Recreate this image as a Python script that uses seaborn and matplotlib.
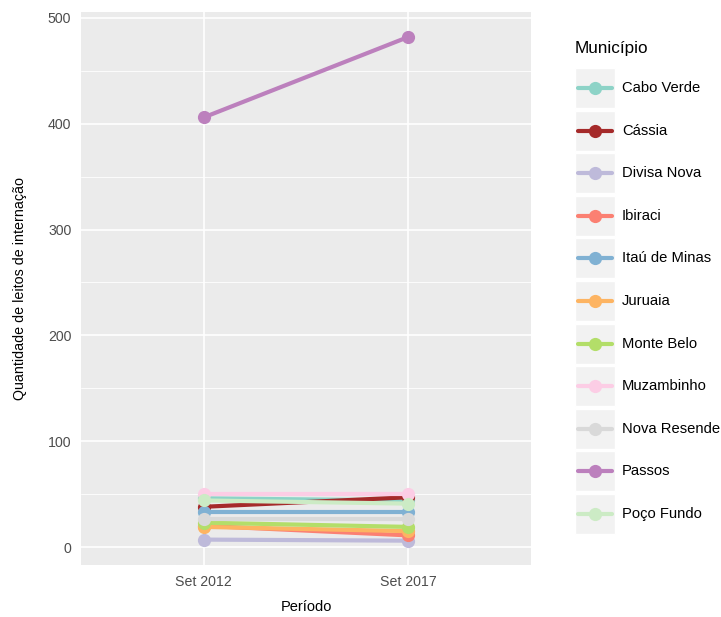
import matplotlib
matplotlib.use("Agg")
import matplotlib.pyplot as plt
from matplotlib.patches import Rectangle
from matplotlib.lines import Line2D
import seaborn as sns
import pandas as pd

periodos = ["Set 2012", "Set 2017"]
municipios = ["Cabo Verde", "Cássia", "Divisa Nova", "Ibiraci", "Itaú de Minas",
              "Juruaia", "Monte Belo", "Muzambinho", "Nova Resende", "Passos",
              "Poço Fundo"]
leitos_2012 = [46, 38, 7, 20, 33, 19, 23, 50, 26, 406, 44]
leitos_2017 = [44, 47, 6, 11, 33, 15, 19, 50, 26, 482, 41]
cores = ["#8DD3C7", "#A52A2A", "#BEBADA", "#FB8072", "#80B1D3", "#FDB462",
         "#B3DE69", "#FCCDE5", "#D9D9D9", "#BC80BD", "#CCEBC5"]

df = pd.DataFrame({
    "Município": municipios * 2,
    "Período": [periodos[0]] * len(municipios) + [periodos[1]] * len(municipios),
    "Leitos": leitos_2012 + leitos_2017,
})

sns.set_theme(style="darkgrid")
plt.rcParams["font.family"] = ["Liberation Sans", "DejaVu Sans"]

W, H = 721, 617
fig = plt.figure(figsize=(W / 100, H / 100), dpi=100)
# panel in pixel coordinates
px0, px1, py0, py1 = 81, 531, 12, 565
ax = fig.add_axes([px0 / W, 1 - py1 / H, (px1 - px0) / W, (py1 - py0) / H])
ax.set_facecolor("#EBEBEB")

paleta = dict(zip(municipios, cores))
sns.lineplot(data=df, x="Período", y="Leitos", hue="Município",
             hue_order=municipios, palette=paleta, linewidth=3,
             marker="o", markersize=9.5, markeredgewidth=0, legend=False,
             sort=False, ax=ax)

ax.set_xlim(-0.6, 1.6)
ax.set_ylim(-17, 505.6)
ax.set_yticks([0, 100, 200, 300, 400, 500])
ax.set_yticks([50, 150, 250, 350, 450], minor=True)
ax.grid(which="major", color="white", linewidth=1.2)
ax.grid(which="minor", color="white", linewidth=0.6)
ax.set_axisbelow(True)
for s in ax.spines.values():
    s.set_visible(False)
ax.tick_params(axis="both", which="major", length=4, width=1, color="#333333",
               labelsize=10.2, labelcolor="#4D4D4D", pad=3)
ax.tick_params(axis="both", which="minor", length=0)
ax.set_xlabel("Período", fontsize=10.5, color="black")
ax.set_ylabel("Quantidade de leitos de internação", fontsize=10.3,
              color="black")
ax.xaxis.set_label_coords(0.5, -(607 - py1) / (py1 - py0))
ax.xaxis.label.set_va("center")
ax.yaxis.set_label_coords(-(px0 - 20) / (px1 - px0), 0.5)
ax.yaxis.label.set_va("center")

# legend
fig.text(575 / W, 1 - 48 / H, "Município", fontsize=12.3, va="center",
         ha="left", color="black")
y0, dy = 88, 42.6
for i, (nome, cor) in enumerate(zip(municipios, cores)):
    yc = y0 + i * dy
    fig.patches.append(Rectangle((575 / W, 1 - (yc + 20) / H), 40 / W, 40 / H,
                                 transform=fig.transFigure, facecolor="#F2F2F2",
                                 edgecolor="white", linewidth=1))
    fig.lines.append(Line2D([578 / W, 612 / W], [1 - yc / H] * 2,
                            transform=fig.transFigure, color=cor, linewidth=3))
    fig.lines.append(Line2D([595 / W], [1 - yc / H], transform=fig.transFigure,
                            color=cor, marker="o", markersize=9.5,
                            markeredgewidth=0))
    fig.text(622 / W, 1 - yc / H, nome, fontsize=10.6, va="center", ha="left",
             color="black")

fig.savefig("out.png", dpi=100, facecolor="white")
